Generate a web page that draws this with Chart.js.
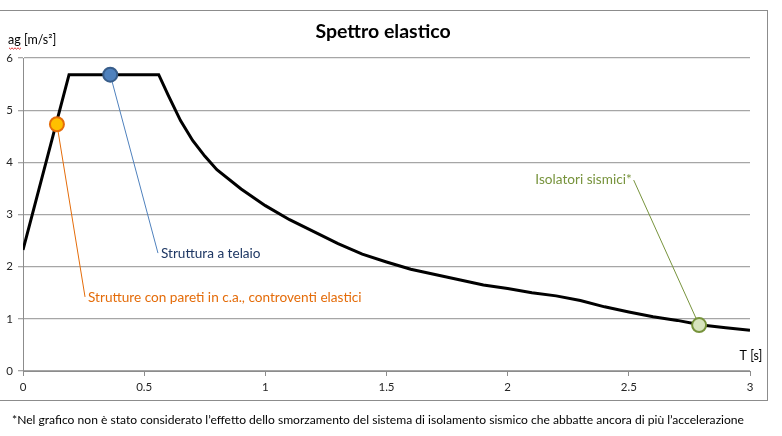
<!DOCTYPE html>
<html>
<head>
<meta charset="utf-8">
<script src="https://cdn.jsdelivr.net/npm/chart.js@4"></script>
<style>
  body { margin: 0; background: #fff; width: 782px; height: 436px; overflow: hidden; position: relative; font-family: Lato, sans-serif; }
  #box { position: absolute; left: -1px; top: 10px; width: 767px; height: 389px; border: 1px solid #8c8c8c; }
  #chart { position: absolute; left: 0; top: 0; }
  #note { position: absolute; left: 12px; top: 412px; font-size: 12.1px; color: #000; white-space: nowrap; }
</style>
</head>
<body>
<div id="box"></div>
<canvas id="chart" width="782" height="436"></canvas>
<div id="note">*Nel grafico non è stato considerato l’effetto dello smorzamento del sistema di isolamento sismico che abbatte ancora di più l’accelerazione</div>
<script>
// spectrum: period T [s] and ag [m/s²]
const periods = [0, 0.19, 0.56, 0.6, 0.65, 0.7, 0.75, 0.8, 0.9, 1.0, 1.1, 1.2, 1.3, 1.4, 1.5, 1.6, 1.7, 1.8, 1.9, 2.0, 2.1, 2.2, 2.3, 2.4, 2.5, 2.6, 2.7, 2.8, 2.9, 3.0]
const accel = [2.32, 5.68, 5.68, 5.28, 4.8, 4.42, 4.12, 3.86, 3.49, 3.17, 2.9, 2.67, 2.44, 2.24, 2.09, 1.95, 1.85, 1.75, 1.65, 1.58, 1.5, 1.44, 1.35, 1.23, 1.13, 1.04, 0.97, 0.88, 0.83, 0.78]

// highlighted structure types
const markerNames = ['Strutture con pareti in c.a., controventi elastici', 'Struttura a telaio', 'Isolatori sismici*']
const markerT = [0.14, 0.36, 2.79]
const markerAg = [4.73, 5.68, 0.88]
// where each leader line ends (same units as the axes)
const labelT = [0.256, 0.557, 2.52]
const labelAg = [1.42, 2.26, 3.66]

const xTicks = [0, 0.5, 1, 1.5, 2, 2.5, 3]
const yTicks = [0, 1, 2, 3, 4, 5, 6]

const markerFill = ['#FFC000', '#4F81BD', '#D7E4BD']
const markerEdge = ['#E46C0A', '#385D8A', '#77933C']
const leaderColor = ['#E46C0A', '#4F81BD', '#77933C']
const textColor = ['#E46C0A', '#1F3864', '#77933C']

const font = 'Lato, sans-serif'

const extras = {
    id: 'extras',
    beforeDatasetsDraw(chart) {
        const ctx = chart.ctx
        const x = chart.scales.x, y = chart.scales.y
        ctx.save()
        ctx.lineWidth = 1
        markerNames.forEach((name, i) => {
            ctx.strokeStyle = leaderColor[i]
            ctx.beginPath()
            ctx.moveTo(x.getPixelForValue(markerT[i]), y.getPixelForValue(markerAg[i]))
            ctx.lineTo(x.getPixelForValue(labelT[i]), y.getPixelForValue(labelAg[i]))
            ctx.stroke()
        })
        ctx.restore()
    },
    afterDraw(chart) {
        const ctx = chart.ctx
        const x = chart.scales.x, y = chart.scales.y
        ctx.save()
        ctx.textBaseline = 'middle'

        // title
        ctx.fillStyle = '#000'
        ctx.font = 'bold 19.5px ' + font
        ctx.textAlign = 'center'
        ctx.fillText('Spettro elastico', 383, 32)

        // axis titles
        ctx.font = '12.5px ' + font
        ctx.textAlign = 'left'
        ctx.fillText('ag [m/s²]', 8, 40)
        ctx.strokeStyle = '#e03030'
        ctx.lineWidth = 1
        ctx.beginPath()
        for (let i = 0; i <= 8; i++) ctx.lineTo(9 + i * 1.5, 48 + (i % 2 ? 1.2 : -0.2))
        ctx.stroke()
        ctx.textAlign = 'center'
        ctx.fillText('T [s]', 751, 356)

        // annotation labels
        ctx.font = '13.6px ' + font
        markerNames.forEach((name, i) => {
            const px = x.getPixelForValue(labelT[i])
            const py = y.getPixelForValue(labelAg[i])
            ctx.fillStyle = textColor[i]
            if (i === 2) {
                ctx.textAlign = 'right'
                ctx.fillText(name, px - 2, py)
            } else {
                ctx.textAlign = 'left'
                ctx.fillText(name, px + 3, py + 1)
            }
        })
        ctx.restore()
    }
}

new Chart(document.getElementById('chart'), {
    type: 'line',
    data: {
        datasets: [
            ...markerNames.map((name, i) => ({
                label: name,
                type: 'scatter',
                data: [{ x: markerT[i], y: markerAg[i] }],
                pointRadius: 7,
                pointBorderWidth: 2,
                backgroundColor: markerFill[i],
                borderColor: markerEdge[i],
                order: 0
            })),
            {
                label: 'Spettro elastico',
                data: periods.map((t, i) => ({ x: t, y: accel[i] })),
                borderColor: '#000',
                borderWidth: 3,
                pointRadius: 0,
                tension: 0,
                fill: false,
                order: 1
            }
        ]
    },
    options: {
        responsive: false,
        animation: false,
        layout: { padding: { left: 0, right: 32, top: 58, bottom: 35 } },
        plugins: { legend: { display: false }, title: { display: false }, tooltip: { enabled: false } },
        scales: {
            x: {
                type: 'linear',
                min: 0,
                max: 3,
                afterBuildTicks: s => { s.ticks = xTicks.map(v => ({ value: v })) },
                afterFit: s => { s.height = 30 },
                ticks: { color: '#262626', font: { size: 11.5, family: font }, padding: 4, maxRotation: 0, callback: v => String(v) },
                grid: { drawOnChartArea: false, drawTicks: true, tickLength: 5, color: '#8c8c8c' },
                border: { color: '#8c8c8c', width: 1 }
            },
            y: {
                min: 0,
                max: 6,
                afterBuildTicks: s => { s.ticks = yTicks.map(v => ({ value: v })) },
                afterFit: s => { s.width = 23 },
                ticks: { color: '#262626', font: { size: 11.5, family: font }, padding: 5, callback: v => String(v) },
                grid: { color: '#a6a6a6', lineWidth: 1.3, drawTicks: true, tickLength: 5 },
                border: { color: '#8c8c8c', width: 1 }
            }
        }
    },
    plugins: [extras]
})
</script>
</body>
</html>
